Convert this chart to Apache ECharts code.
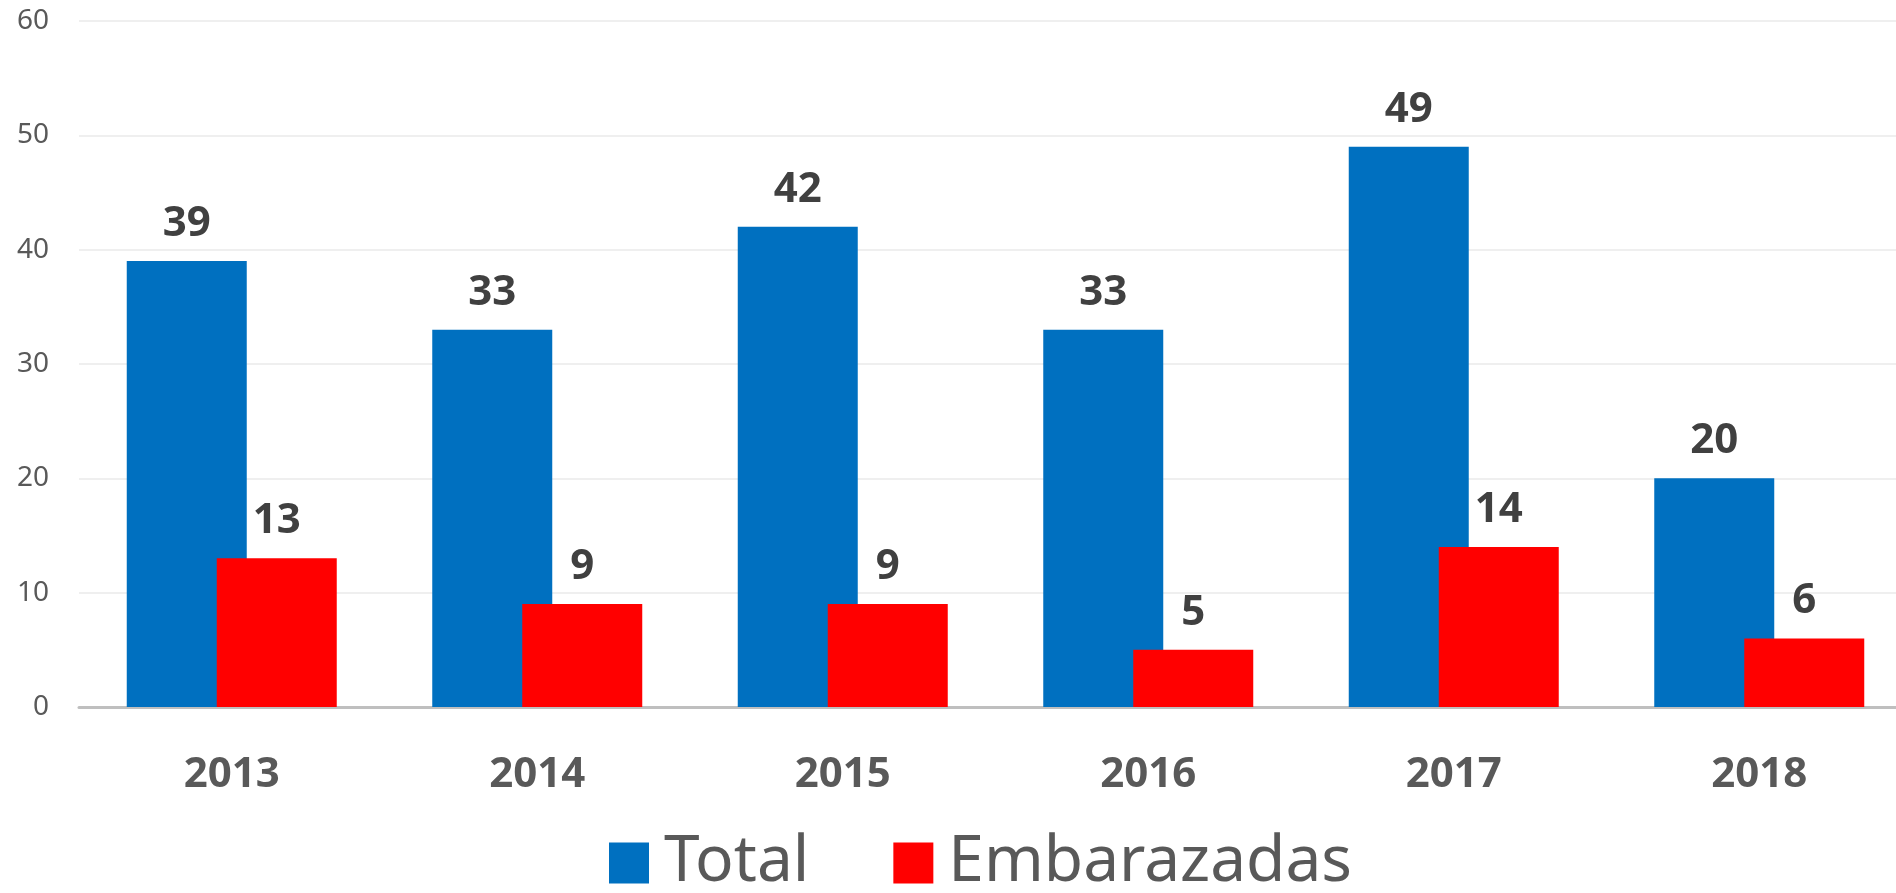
<!DOCTYPE html>
<html>
<head>
<meta charset="utf-8">
<script src="https://cdn.jsdelivr.net/npm/echarts@6/dist/echarts.min.js"></script>
<style>
  html, body { margin: 0; padding: 0; background: #fff; overflow: hidden; }
  #main { width: 1912px; height: 893px; }
</style>
</head>
<body>
<div id="main"></div>
<script>
  // datos
  var years = ['2013', '2014', '2015', '2016', '2017', '2018'];
  var total = [39, 33, 42, 33, 49, 20];
  var embarazadas = [13, 9, 9, 5, 14, 6];

  var fuente = '"Noto Sans", "Open Sans", sans-serif';

  var chart = echarts.init(document.getElementById('main'));

  var etiqueta = {
    show: true,
    position: 'top',
    distance: 16,
    color: '#404040',
    fontFamily: fuente,
    fontWeight: 'bold',
    fontSize: 42
  };

  chart.setOption({
    animation: false,
    backgroundColor: '#fff',
    grid: {
      left: 79,
      top: 21,
      width: 1833,
      height: 686
    },
    legend: {
      left: 604,
      top: 826,
      itemWidth: 40,
      itemHeight: 41,
      itemGap: 84,
      icon: 'rect',
      textStyle: {
        color: '#595959',
        fontFamily: fuente,
        fontSize: 64,
        padding: [0, 0, 0, 10]
      },
      data: ['Total', 'Embarazadas']
    },
    xAxis: {
      type: 'category',
      data: years,
      axisLine: { lineStyle: { color: '#bfbfbf', width: 3 } },
      axisTick: { show: false },
      axisLabel: {
        color: '#595959',
        fontFamily: fuente,
        fontWeight: 'bold',
        fontSize: 42,
        margin: 47
      }
    },
    yAxis: {
      type: 'value',
      min: 0,
      max: 60,
      interval: 10,
      axisLine: { show: false },
      axisTick: { show: false },
      splitLine: { lineStyle: { color: '#efefef', width: 2 } },
      axisLabel: {
        color: '#595959',
        fontFamily: fuente,
        fontSize: 28,
        margin: 30
      }
    },
    series: [{
      name: 'Total',
      type: 'bar',
      data: total,
      barWidth: 120,
      barGap: '-25%',
      itemStyle: { color: '#0070C0' },
      label: etiqueta
    }, {
      name: 'Embarazadas',
      type: 'bar',
      data: embarazadas,
      barWidth: 120,
      barGap: '-25%',
      itemStyle: { color: '#FF0000' },
      label: etiqueta
    }]
  });
</script>
</body>
</html>
